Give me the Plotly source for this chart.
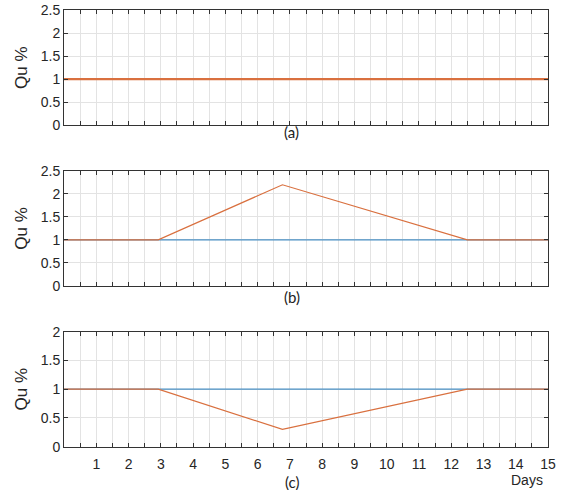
import plotly.graph_objects as go

# Time axis (days) and Qu % profiles for the three scenarios
days_flat = [0, 15]
qu_flat = [1, 1]

days_profile = [0, 2.92, 6.77, 12.5, 15]
qu_rise = [1, 1, 2.2, 1, 1]      # scenario (b): temporary increase
qu_drop = [1, 1, 0.3, 1, 1]      # scenario (c): temporary decrease

x_tick_vals = [i * 0.5 for i in range(31)]
x_tick_text = [str(int(v)) if v == int(v) and v > 0 else "" for v in x_tick_vals]
y_ticks_ab = [0, 0.5, 1, 1.5, 2, 2.5]
y_ticks_c = [0, 0.5, 1, 1.5, 2]

panel_labels = ["(a)", "(b)", "(c)"]

BLUE = "#4a90c4"
ORANGE = "#d9703f"
AXIS = "#333333"
GRID = "#e3e3e3"

fig = go.Figure()

panels = [
    ("x", "y", days_flat, qu_flat, days_flat, qu_flat, 2.2),
    ("x2", "y2", days_flat, qu_flat, days_profile, qu_rise, 1.2),
    ("x3", "y3", days_flat, qu_flat, days_profile, qu_drop, 1.2),
]
for xa, ya, bx, by, ox, oy, w in panels:
    fig.add_trace(go.Scatter(x=bx, y=by, mode="lines", xaxis=xa, yaxis=ya,
                             line=dict(color=BLUE, width=1.3), showlegend=False))
    fig.add_trace(go.Scatter(x=ox, y=oy, mode="lines", xaxis=xa, yaxis=ya,
                             line=dict(color=ORANGE, width=w), showlegend=False))

tick_font = dict(family="Liberation Sans, Arial, sans-serif", size=14, color="#262626")


def x_axis(anchor, show_labels):
    return dict(
        domain=[0, 1], anchor=anchor, range=[0, 15],
        tickmode="array", tickvals=x_tick_vals,
        ticktext=x_tick_text if show_labels else [""] * len(x_tick_vals),
        showticklabels=show_labels, ticklabelstandoff=5,
        ticks="inside", ticklen=4, tickcolor=AXIS, tickwidth=1,
        showline=True, linecolor=AXIS, linewidth=1, mirror="ticks",
        showgrid=True, gridcolor=GRID, gridwidth=1, zeroline=False,
        tickfont=tick_font, automargin=False,
    )


def y_axis(anchor, domain, top, vals):
    return dict(
        domain=domain, anchor=anchor, range=[0, top],
        tickmode="array", tickvals=vals, ticktext=[f"{v:g}" for v in vals],
        ticks="inside", ticklen=4, tickcolor=AXIS, tickwidth=1,
        showline=True, linecolor=AXIS, linewidth=1, mirror="ticks",
        showgrid=True, gridcolor=GRID, gridwidth=1, zeroline=False,
        tickfont=tick_font, automargin=False,
        title=dict(text="Qu %", font=dict(family="Liberation Sans, Arial, sans-serif",
                                          size=17, color="#262626"), standoff=8),
    )


fig.update_layout(
    width=561, height=490,
    margin=dict(l=64, r=13, t=0, b=0),
    paper_bgcolor="white", plot_bgcolor="white",
    xaxis=x_axis("y", False),
    xaxis2=x_axis("y2", False),
    xaxis3=x_axis("y3", True),
    yaxis=y_axis("x", [0.7443, 0.9796], 2.5, y_ticks_ab),
    yaxis2=y_axis("x2", [0.4169, 0.651], 2.5, y_ticks_ab),
    yaxis3=y_axis("x3", [0.0884, 0.3231], 2, y_ticks_c),
)

caption_font = dict(family="Lato, Open Sans, sans-serif", size=15, color="#222222")
for label, ypos in zip(panel_labels, [0.7306, 0.394, 0.0163]):
    fig.add_annotation(text=label, x=0.471, y=ypos, xref="paper", yref="paper",
                       xanchor="center", yanchor="middle",
                       showarrow=False, font=caption_font)

fig.add_annotation(text="Days", x=0.957, y=0.021, xref="paper", yref="paper",
                   xanchor="center", yanchor="middle", showarrow=False,
                   font=dict(family="Liberation Sans, Arial, sans-serif", size=14, color="#262626"))

fig.write_html("out.html")
